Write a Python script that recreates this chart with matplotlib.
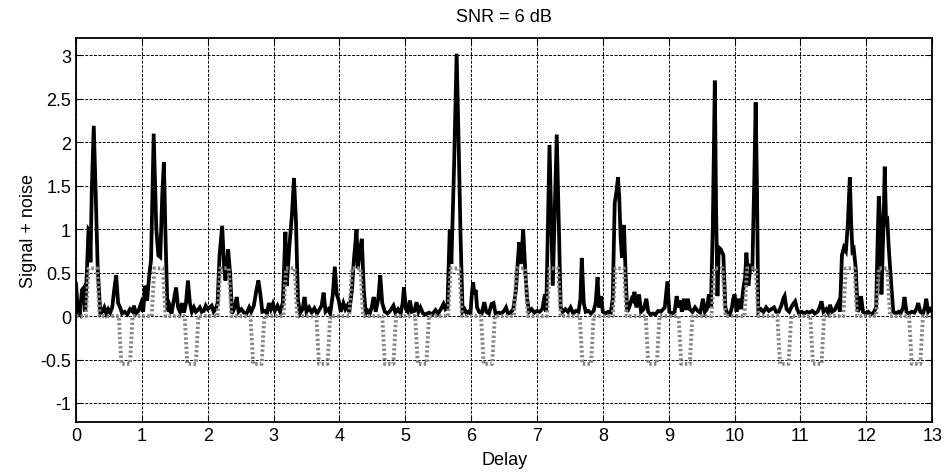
import numpy as np
import matplotlib
matplotlib.use("Agg")
import matplotlib.pyplot as plt

plt.rcParams['font.family'] = ['Liberation Sans', 'DejaVu Sans']

# signal + noise (black trace)
delay = [0.00, 0.03, 0.06, 0.09, 0.12, 0.14, 0.17, 0.19, 0.21, 0.22, 0.24, 0.27, 0.30, 0.33, 0.37,
         0.40, 0.43, 0.46, 0.49, 0.52, 0.55, 0.58, 0.61, 0.64, 0.67, 0.70, 0.74, 0.78, 0.82, 0.86,
         0.88, 0.91, 0.95, 0.99, 1.02, 1.05, 1.08, 1.11, 1.14, 1.18, 1.22, 1.25, 1.28, 1.31, 1.335,
         1.36, 1.39, 1.42, 1.45, 1.49, 1.52, 1.55, 1.58, 1.61, 1.64, 1.67, 1.70, 1.73, 1.76, 1.79,
         1.82, 1.85, 1.88, 1.91, 1.94, 1.97, 2.00, 2.03, 2.06, 2.09, 2.12, 2.15, 2.18, 2.22, 2.25,
         2.27, 2.31, 2.34, 2.37, 2.41, 2.44, 2.47, 2.51, 2.55, 2.59, 2.63, 2.66, 2.70, 2.74, 2.77,
         2.80, 2.83, 2.87, 2.90, 2.93, 2.96, 2.99, 3.02, 3.06, 3.10, 3.14, 3.18, 3.20, 3.24, 3.28,
         3.31, 3.34, 3.37, 3.40, 3.44, 3.47, 3.50, 3.54, 3.58, 3.62, 3.66, 3.70, 3.73, 3.76, 3.79,
         3.83, 3.86, 3.90, 3.93, 3.96, 3.99, 4.02, 4.06, 4.09, 4.12, 4.15, 4.19, 4.22, 4.26, 4.28,
         4.31, 4.34, 4.37, 4.40, 4.43, 4.46, 4.49, 4.52, 4.55, 4.59, 4.62, 4.65, 4.69, 4.73, 4.77,
         4.82, 4.85, 4.89, 4.93, 4.96, 4.98, 5.01, 5.04, 5.07, 5.10, 5.14, 5.17, 5.20, 5.23, 5.27,
         5.31, 5.36, 5.41, 5.46, 5.50, 5.54, 5.58, 5.61, 5.64, 5.675, 5.70, 5.74, 5.78, 5.81, 5.84,
         5.87, 5.90, 5.93, 5.96, 5.99, 6.01, 6.03, 6.05, 6.07, 6.09, 6.12, 6.16, 6.20, 6.23, 6.27,
         6.31, 6.34, 6.37, 6.42, 6.46, 6.50, 6.53, 6.56, 6.60, 6.64, 6.68, 6.71, 6.73, 6.75, 6.77,
         6.79, 6.82, 6.85, 6.88, 6.92, 6.96, 7.00, 7.04, 7.08, 7.12, 7.14, 7.17, 7.19, 7.22, 7.24,
         7.27, 7.30, 7.33, 7.36, 7.39, 7.43, 7.47, 7.51, 7.55, 7.59, 7.63, 7.66, 7.68, 7.71, 7.74,
         7.78, 7.82, 7.86, 7.89, 7.92, 7.94, 7.97, 8.00, 8.04, 8.08, 8.12, 8.15, 8.18, 8.21, 8.23,
         8.25, 8.27, 8.29, 8.32, 8.35, 8.37, 8.40, 8.44, 8.46, 8.48, 8.51, 8.55, 8.58, 8.62, 8.66,
         8.69, 8.72, 8.76, 8.80, 8.84, 8.88, 8.94, 8.98, 9.01, 9.05, 9.09, 9.12, 9.15, 9.17, 9.20,
         9.23, 9.26, 9.29, 9.32, 9.36, 9.40, 9.44, 9.48, 9.52, 9.55, 9.58, 9.61, 9.64, 9.67, 9.70,
         9.72, 9.74, 9.76, 9.79, 9.83, 9.86, 9.89, 9.93, 9.96, 9.98, 10.00, 10.03, 10.06, 10.10, 10.13,
         10.16, 10.18, 10.21, 10.24, 10.27, 10.30, 10.32, 10.34, 10.36, 10.40, 10.44, 10.48, 10.52, 10.56, 10.60,
         10.63, 10.67, 10.71, 10.74, 10.76, 10.79, 10.83, 10.86, 10.89, 10.92, 10.95, 10.98, 11.02, 11.06, 11.10,
         11.14, 11.18, 11.22, 11.26, 11.29, 11.32, 11.35, 11.39, 11.42, 11.45, 11.48, 11.52, 11.57, 11.60, 11.63,
         11.66, 11.69, 11.72, 11.75, 11.77, 11.79, 11.81, 11.84, 11.87, 11.90, 11.92, 11.95, 11.99, 12.03, 12.07,
         12.11, 12.15, 12.17, 12.19, 12.21, 12.23, 12.26, 12.28, 12.30, 12.32, 12.34, 12.38, 12.41, 12.45, 12.49,
         12.52, 12.56, 12.58, 12.61, 12.65, 12.69, 12.73, 12.76, 12.79, 12.82, 12.86, 12.89, 12.91, 12.94, 12.97,
         13.00]
noisy = [0.37, 0.05, 0.02, 0.30, 0.33, 0.05, 0.60, 1.00, 0.98, 0.62, 1.45, 2.19, 1.40, 0.55, 0.03,
         0.05, 0.10, 0.03, 0.08, 0.04, 0.10, 0.30, 0.47, 0.15, 0.10, 0.03, 0.05, 0.02, 0.08, 0.05,
         0.12, 0.03, 0.06, 0.15, 0.05, 0.35, 0.18, 0.45, 0.65, 2.10, 1.00, 0.70, 0.68, 1.40, 1.77,
         0.90, 0.05, 0.12, 0.03, 0.20, 0.33, 0.10, 0.05, 0.15, 0.04, 0.15, 0.41, 0.15, 0.05, 0.10,
         0.05, 0.07, 0.10, 0.05, 0.06, 0.12, 0.08, 0.10, 0.12, 0.05, 0.08, 0.15, 0.70, 1.04, 0.55,
         0.41, 0.77, 0.50, 0.03, 0.10, 0.22, 0.05, 0.08, 0.04, 0.03, 0.10, 0.05, 0.12, 0.30, 0.41,
         0.25, 0.05, 0.06, 0.03, 0.15, 0.08, 0.14, 0.06, 0.12, 0.05, 0.15, 0.97, 0.35, 0.80, 1.18,
         1.59, 1.10, 0.20, 0.03, 0.08, 0.22, 0.05, 0.10, 0.04, 0.09, 0.03, 0.08, 0.12, 0.27, 0.05,
         0.08, 0.03, 0.25, 0.57, 0.25, 0.18, 0.05, 0.15, 0.08, 0.12, 0.05, 0.30, 0.65, 1.00, 0.55,
         0.75, 0.89, 0.30, 0.03, 0.06, 0.03, 0.10, 0.22, 0.05, 0.20, 0.47, 0.15, 0.05, 0.03, 0.06,
         0.12, 0.04, 0.08, 0.03, 0.15, 0.33, 0.08, 0.05, 0.18, 0.05, 0.06, 0.16, 0.05, 0.10, 0.03,
         0.02, 0.04, 0.02, 0.07, 0.03, 0.08, 0.14, 0.08, 0.10, 1.00, 0.60, 1.70, 3.02, 2.00, 0.90,
         0.05, 0.08, 0.03, 0.05, 0.03, 0.25, 0.39, 0.25, 0.30, 0.10, 0.05, 0.03, 0.16, 0.05, 0.03,
         0.14, 0.15, 0.03, 0.04, 0.03, 0.06, 0.10, 0.03, 0.04, 0.08, 0.30, 0.65, 0.85, 0.60, 0.75,
         1.00, 0.55, 0.20, 0.05, 0.08, 0.04, 0.06, 0.05, 0.08, 0.25, 0.05, 1.20, 1.97, 1.00, 0.35,
         1.20, 2.09, 1.10, 0.10, 0.05, 0.08, 0.05, 0.10, 0.03, 0.06, 0.05, 0.20, 0.67, 0.15, 0.05,
         0.06, 0.03, 0.06, 0.15, 0.45, 0.10, 0.23, 0.05, 0.03, 0.05, 0.04, 0.20, 1.30, 1.45, 1.60,
         1.35, 0.90, 0.67, 1.05, 0.40, 0.05, 0.10, 0.20, 0.18, 0.28, 0.10, 0.25, 0.05, 0.08, 0.20,
         0.05, 0.02, 0.03, 0.02, 0.06, 0.05, 0.10, 0.40, 0.05, 0.03, 0.05, 0.23, 0.10, 0.18, 0.05,
         0.20, 0.07, 0.20, 0.08, 0.05, 0.10, 0.06, 0.04, 0.20, 0.05, 0.08, 0.25, 0.10, 1.05, 2.71,
         1.20, 0.23, 0.79, 0.77, 0.70, 0.10, 0.03, 0.02, 0.10, 0.20, 0.25, 0.05, 0.20, 0.08, 0.30,
         0.45, 0.73, 0.35, 0.57, 0.55, 1.60, 2.46, 1.50, 0.05, 0.08, 0.05, 0.10, 0.06, 0.08, 0.10,
         0.05, 0.05, 0.12, 0.20, 0.23, 0.08, 0.05, 0.10, 0.14, 0.17, 0.08, 0.03, 0.05, 0.03, 0.05,
         0.04, 0.06, 0.03, 0.05, 0.10, 0.17, 0.05, 0.08, 0.04, 0.13, 0.05, 0.07, 0.15, 0.05, 0.70,
         0.79, 0.75, 1.06, 1.60, 1.08, 0.75, 0.77, 0.55, 0.05, 0.10, 0.23, 0.05, 0.03, 0.05, 0.02,
         0.04, 0.10, 0.80, 1.38, 1.10, 0.25, 1.00, 1.72, 1.08, 1.10, 0.80, 0.35, 0.05, 0.03, 0.05,
         0.03, 0.10, 0.22, 0.05, 0.03, 0.05, 0.04, 0.08, 0.15, 0.05, 0.03, 0.10, 0.20, 0.05, 0.08,
         0.05]

# transmitted pulses (gray dotted trace): start of each pulse and its sign
pulse_starts = [0.15, 0.65, 1.15, 1.65, 2.15, 2.65, 3.15, 3.65, 4.15, 4.65, 5.15, 5.65, 6.15,
                6.65, 7.15, 7.65, 8.15, 8.65, 9.15, 9.65, 10.15, 10.65, 11.15, 11.65, 12.15, 12.65]
pulse_signs = [1, -1, 1, -1, 1, -1, 1, -1, 1, -1, -1, 1, -1,
               1, 1, -1, 1, -1, -1, 1, 1, -1, -1, 1, 1, -1]
pulse_amp = 0.55
pulse_width = 0.21
pulse_rise = 0.04

# trapezoid waveform from the pulse list
sig_x = [0.0]
sig_y = [0.0]
for t0, s in zip(pulse_starts, pulse_signs):
    sig_x += [t0, t0 + pulse_rise, t0 + pulse_width - pulse_rise, t0 + pulse_width]
    sig_y += [0.0, s * pulse_amp, s * pulse_amp, 0.0]
sig_x.append(13.0)
sig_y.append(0.0)

fig = plt.figure(figsize=(9.45, 4.77), dpi=100)
ax = fig.add_axes([0.0804, 0.113, 0.906, 0.805])

ax.plot(delay, noisy, color='black', lw=2.7, solid_joinstyle='miter')
ax.plot(sig_x, sig_y, color='#858585', lw=2.8, ls=(0, (0.6, 0.6)))

ax.set_xlim(0, 13)
ax.set_ylim(-1.22, 3.2)
ax.set_xticks(np.arange(0, 14, 1))
ax.set_yticks([-1, -0.5, 0, 0.5, 1, 1.5, 2, 2.5, 3])
ax.set_yticklabels(['-1', '-0.5', '0', '0.5', '1', '1.5', '2', '2.5', '3'])
ax.grid(True, color='black', ls=(0, (3, 1.5)), lw=0.7)
ax.tick_params(direction='in', top=True, right=True, labelsize=13, length=4)
for sp in ax.spines.values():
    sp.set_linewidth(1.3)

ax.set_xlabel('Delay', fontsize=13, labelpad=5)
ax.set_ylabel('Signal + noise', fontsize=13, labelpad=2)
ax.set_title('SNR = 6 dB', fontsize=13, pad=12)

fig.savefig('out.png', dpi=100)
